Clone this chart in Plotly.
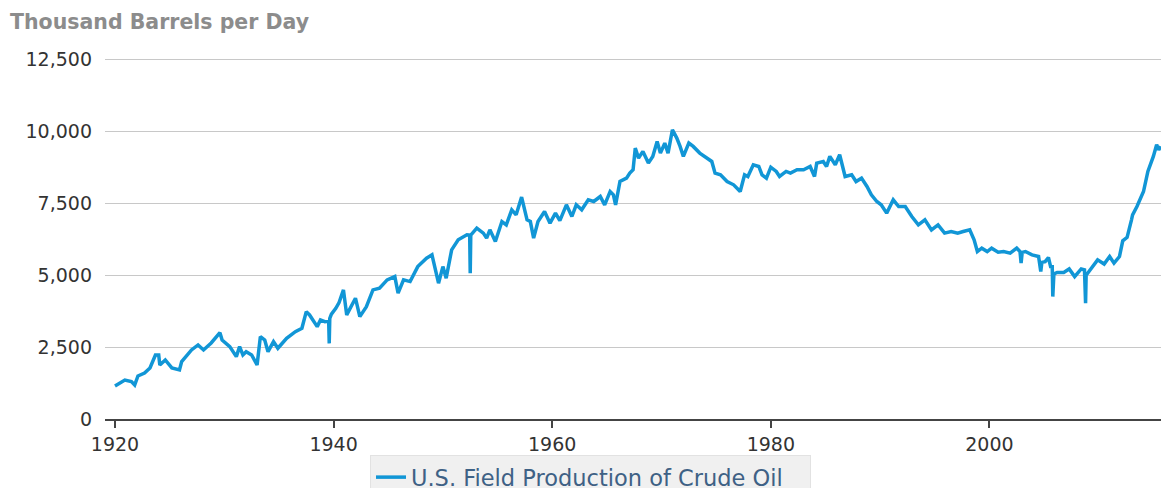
import plotly.graph_objects as go

# Monthly-ish U.S. field production of crude oil, thousand barrels per day
years = [
    1920.0, 1920.5, 1920.9, 1921.5, 1921.8, 1922.1, 1922.7, 1923.2, 1923.7, 1924.0,
    1924.1, 1924.6, 1925.2, 1925.9, 1926.1, 1927.0, 1927.6, 1928.1, 1928.8, 1929.6,
    1929.8, 1930.5, 1931.1, 1931.4, 1931.7, 1932.0, 1932.5, 1933.0, 1933.3, 1933.7,
    1934.0, 1934.5, 1934.9, 1935.7, 1936.5, 1937.1, 1937.5, 1937.8, 1938.5, 1938.8,
    1939.2, 1939.55, 1939.6, 1939.65, 1939.8, 1940.2, 1940.5, 1940.9, 1941.2, 1942.0,
    1942.4, 1943.0, 1943.6, 1944.2, 1944.9, 1945.6, 1945.9, 1946.4, 1947.0, 1947.7,
    1948.5, 1949.0, 1949.6, 1950.0, 1950.3, 1950.8, 1951.4, 1952.2, 1952.45, 1952.5,
    1952.55, 1953.1, 1953.7, 1954.0, 1954.3, 1954.8, 1955.4, 1955.8, 1956.3, 1956.7,
    1957.2, 1957.7, 1958.0, 1958.3, 1958.7, 1959.3, 1959.8, 1960.3, 1960.7, 1961.3,
    1961.8, 1962.2, 1962.7, 1963.3, 1963.8, 1964.4, 1964.8, 1965.3, 1965.6, 1965.8,
    1966.2, 1966.8, 1967.1, 1967.4, 1967.6, 1967.9, 1968.3, 1968.8, 1969.2, 1969.6,
    1969.9, 1970.3, 1970.6, 1971.0, 1971.4, 1971.7, 1972.0, 1972.5, 1972.9, 1973.5,
    1974.1, 1974.6, 1974.9, 1975.4, 1976.0, 1976.6, 1977.2, 1977.6, 1977.9, 1978.4,
    1978.9, 1979.2, 1979.6, 1980.0, 1980.5, 1980.8, 1981.4, 1981.8, 1982.4, 1983.0,
    1983.6, 1984.0, 1984.2, 1984.8, 1985.1, 1985.4, 1985.9, 1986.3, 1986.8, 1987.4,
    1987.8, 1988.3, 1988.8, 1989.2, 1989.7, 1990.1, 1990.6, 1991.2, 1991.7, 1992.3,
    1992.9, 1993.5, 1994.1, 1994.7, 1995.3, 1995.9, 1996.5, 1997.1, 1997.6, 1998.2,
    1998.6, 1998.9, 1999.3, 1999.8, 2000.2, 2000.8, 2001.3, 2001.9, 2002.5, 2002.8,
    2002.9, 2003.0, 2003.3, 2003.9, 2004.5, 2004.7, 2004.8, 2005.1, 2005.4, 2005.6,
    2005.75, 2005.8, 2005.9, 2006.2, 2006.8, 2007.3, 2007.8, 2008.4, 2008.7, 2008.8,
    2008.85, 2009.0, 2009.4, 2009.9, 2010.5, 2011.0, 2011.4, 2011.9, 2012.2, 2012.6,
    2013.0, 2013.1, 2013.5, 2014.1, 2014.5, 2015.0, 2015.3, 2015.5, 2015.7,
]
production = [
    1150, 1250, 1357, 1300, 1183, 1497, 1600, 1775, 2228, 2228,
    1880, 2054, 1775, 1706, 1995, 2403, 2577, 2403, 2646, 3005,
    2750, 2517, 2170, 2517, 2228, 2343, 2228, 1880, 2866, 2750,
    2343, 2692, 2461, 2810, 3040, 3156, 3736, 3621, 3214, 3447,
    3388, 3400, 2630, 3500, 3650, 3850, 4050, 4492, 3621, 4203,
    3562, 3910, 4492, 4551, 4840, 4955, 4377, 4840, 4781, 5303,
    5593, 5710, 4725, 5303, 4899, 5885, 6233, 6407, 6400, 5073,
    6400, 6640, 6466, 6292, 6581, 6174, 6870, 6755, 7278, 7104,
    7720, 6929, 6870, 6292, 6870, 7218, 6812, 7162, 6900, 7452,
    7045, 7452, 7278, 7626, 7567, 7741, 7452, 7915, 7800, 7452,
    8263, 8380, 8554, 8670, 9426, 9078, 9310, 8903, 9136, 9658,
    9252, 9600, 9252, 10063, 9774, 9484, 9136, 9600, 9484, 9252,
    9078, 8961, 8554, 8496, 8263, 8148, 7915, 8496, 8437, 8845,
    8786, 8496, 8380, 8760, 8612, 8437, 8612, 8554, 8670, 8670,
    8786, 8437, 8903, 8961, 8786, 9136, 8845, 9194, 8437, 8496,
    8263, 8380, 8089, 7800, 7567, 7452, 7162, 7626, 7393, 7393,
    7045, 6755, 6929, 6581, 6755, 6466, 6523, 6466, 6523, 6581,
    6233, 5827, 5944, 5827, 5944, 5800, 5827, 5770, 5944, 5827,
    5422, 5800, 5827, 5710, 5654, 5129, 5450, 5477, 5620, 5303,
    5300, 4260, 5050, 5100, 5100, 5220, 4955, 5220, 5188, 4028,
    5000, 5073, 5303, 5536, 5390, 5654, 5422, 5654, 6200, 6320,
    6929, 7104, 7393, 7915, 8612, 9136, 9542, 9368, 9484,
]

y_ticks = [0, 2500, 5000, 7500, 10000, 12500]
y_tick_labels = ["0", "2,500", "5,000", "7,500", "10,000", "12,500"]
x_ticks = [1920, 1940, 1960, 1980, 2000]
x_tick_labels = ["1920", "1940", "1960", "1980", "2000"]

series_name = "U.S. Field Production of Crude Oil"
line_color = "#1196d6"
font_family = "DejaVu Sans"

# plot area: 58 px top margin, 69 px bottom margin -> 361 px tall
plot_top, plot_bottom = 58, 488 - 69
plot_h = plot_bottom - plot_top

fig = go.Figure()
fig.add_trace(go.Scatter(
    x=years,
    y=production,
    mode="lines",
    name=series_name,
    line=dict(color=line_color, width=3.5),
    showlegend=True,
))

fig.update_layout(
    width=1161,
    height=488,
    margin=dict(l=105, r=0, t=plot_top, b=69, autoexpand=False),
    paper_bgcolor="white",
    plot_bgcolor="white",
    font=dict(family=font_family, size=19, color="#333333"),
    title=dict(
        text="<b>Thousand Barrels per Day</b>",
        font=dict(family=font_family, size=20.5, color="#8c8c8c"),
        xref="container", x=10 / 1161, xanchor="left",
        yref="container", y=1 - 22 / 488, yanchor="middle",
    ),
    showlegend=True,
    legend=dict(
        orientation="h",
        x=(370 - 105) / 1056, xanchor="left",
        y=-(455 - plot_bottom) / plot_h, yanchor="top",
        bgcolor="#f0f0f0",
        bordercolor="#e2e2e2",
        borderwidth=1,
        entrywidth=394,
        entrywidthmode="pixels",
        font=dict(family=font_family, size=22.5, color="#3e6185"),
    ),
    xaxis=dict(
        range=[1919.085, 2015.7],
        tickvals=x_ticks,
        ticktext=x_tick_labels,
        showgrid=False,
        zeroline=False,
        showline=True,
        linecolor="#444444",
        linewidth=1.5,
        ticks="outside",
        ticklen=7,
        tickwidth=1.5,
        tickcolor="#444444",
        tickfont=dict(family=font_family, size=19, color="#333333"),
    ),
    yaxis=dict(
        range=[0, 12560],
        tickvals=y_ticks,
        ticktext=y_tick_labels,
        showgrid=True,
        gridcolor="#c8c8c8",
        gridwidth=1.2,
        zeroline=False,
        showline=False,
        ticks="",
        ticklabelstandoff=12,
        tickfont=dict(family=font_family, size=19, color="#333333"),
    ),
)

fig.write_html("out.html")
